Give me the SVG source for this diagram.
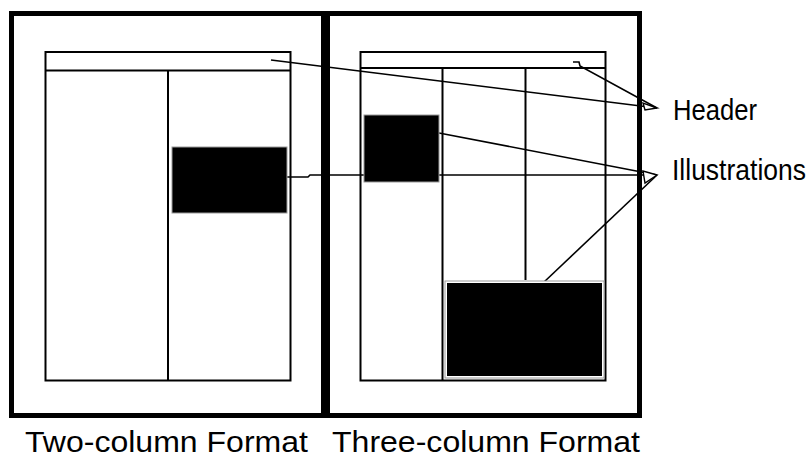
<svg xmlns="http://www.w3.org/2000/svg" width="809" height="456" viewBox="0 0 809 456">
  <style>
    .frame { fill: none; stroke: #000; stroke-width: 5; }
    .page { fill: none; stroke: #000; stroke-width: 2; }
    .rule { stroke: #000; stroke-width: 2; }
    .illus { fill: #000; stroke: #9a9a9a; stroke-width: 1; }
    .leader { fill: none; stroke: #000; stroke-width: 1.6; }
    .tip { fill: #fff; stroke: #000; stroke-width: 1.4; stroke-linejoin: miter; }
    .label { font-family: "Liberation Sans", Arial, sans-serif; font-size: 30px; fill: #000; }
  </style>
  <rect width="809" height="456" fill="#fff"/>

  <!-- leader lines (drawn first so the illustration blocks sit on top) -->
  <g id="connectors">
    <path class="leader" d="M271,60 L657,108"/>
    <path class="leader" d="M573,62 H579 L580,66 L657,108"/>
    <path class="leader" d="M287,177 H308 L310,175 H657"/>
    <path class="leader" d="M439,133 L657,175"/>
    <path class="leader" d="M543,283 L657,175"/>
    <polygon class="tip" points="657,108 643,103 645,110"/>
    <polygon class="tip" points="657,175 643,171 645,183"/>
  </g>

  <!-- two-column page layout -->
  <g id="two-column">
    <rect class="frame" x="11.5" y="13.5" width="312" height="402"/>
    <rect class="page" x="45.5" y="52" width="245" height="328.5"/>
    <line class="rule" x1="45.5" y1="70.5" x2="290.5" y2="70.5"/>
    <line class="rule" x1="168" y1="70.5" x2="168" y2="380.5"/>
    <rect class="illus" x="172" y="147" width="115" height="66"/>
  </g>

  <!-- three-column page layout -->
  <g id="three-column">
    <rect class="frame" x="327.5" y="13.5" width="312" height="402"/>
    <rect class="page" x="360.5" y="52" width="245" height="328.5"/>
    <line class="rule" x1="360.5" y1="68" x2="605.5" y2="68"/>
    <line class="rule" x1="442.5" y1="68" x2="442.5" y2="380.5"/>
    <line class="rule" x1="525.5" y1="68" x2="525.5" y2="280"/>
    <rect class="illus" x="364" y="115" width="75" height="67"/>
    <rect x="445" y="281" width="159" height="97" fill="#fff" stroke="#9a9a9a" stroke-width="1"/>
    <rect x="447" y="283" width="155" height="93" fill="#000"/>
  </g>

  <g id="header-label">
    <text class="label" x="673" y="120" textLength="84" lengthAdjust="spacingAndGlyphs">Header</text>
  </g>
  <g id="illustrations-label">
    <!-- set a little smaller and stretched upright so the word fits the right margin -->
    <text class="label" transform="translate(672,180) scale(1,1.12)" style="font-size:26.5px">Illustrations</text>
  </g>
  <g id="caption-two">
    <text class="label" x="25" y="451.5" textLength="283" lengthAdjust="spacingAndGlyphs">Two-column Format</text>
  </g>
  <g id="caption-three">
    <text class="label" x="332" y="451.5" textLength="308" lengthAdjust="spacingAndGlyphs">Three-column Format</text>
  </g>
</svg>
